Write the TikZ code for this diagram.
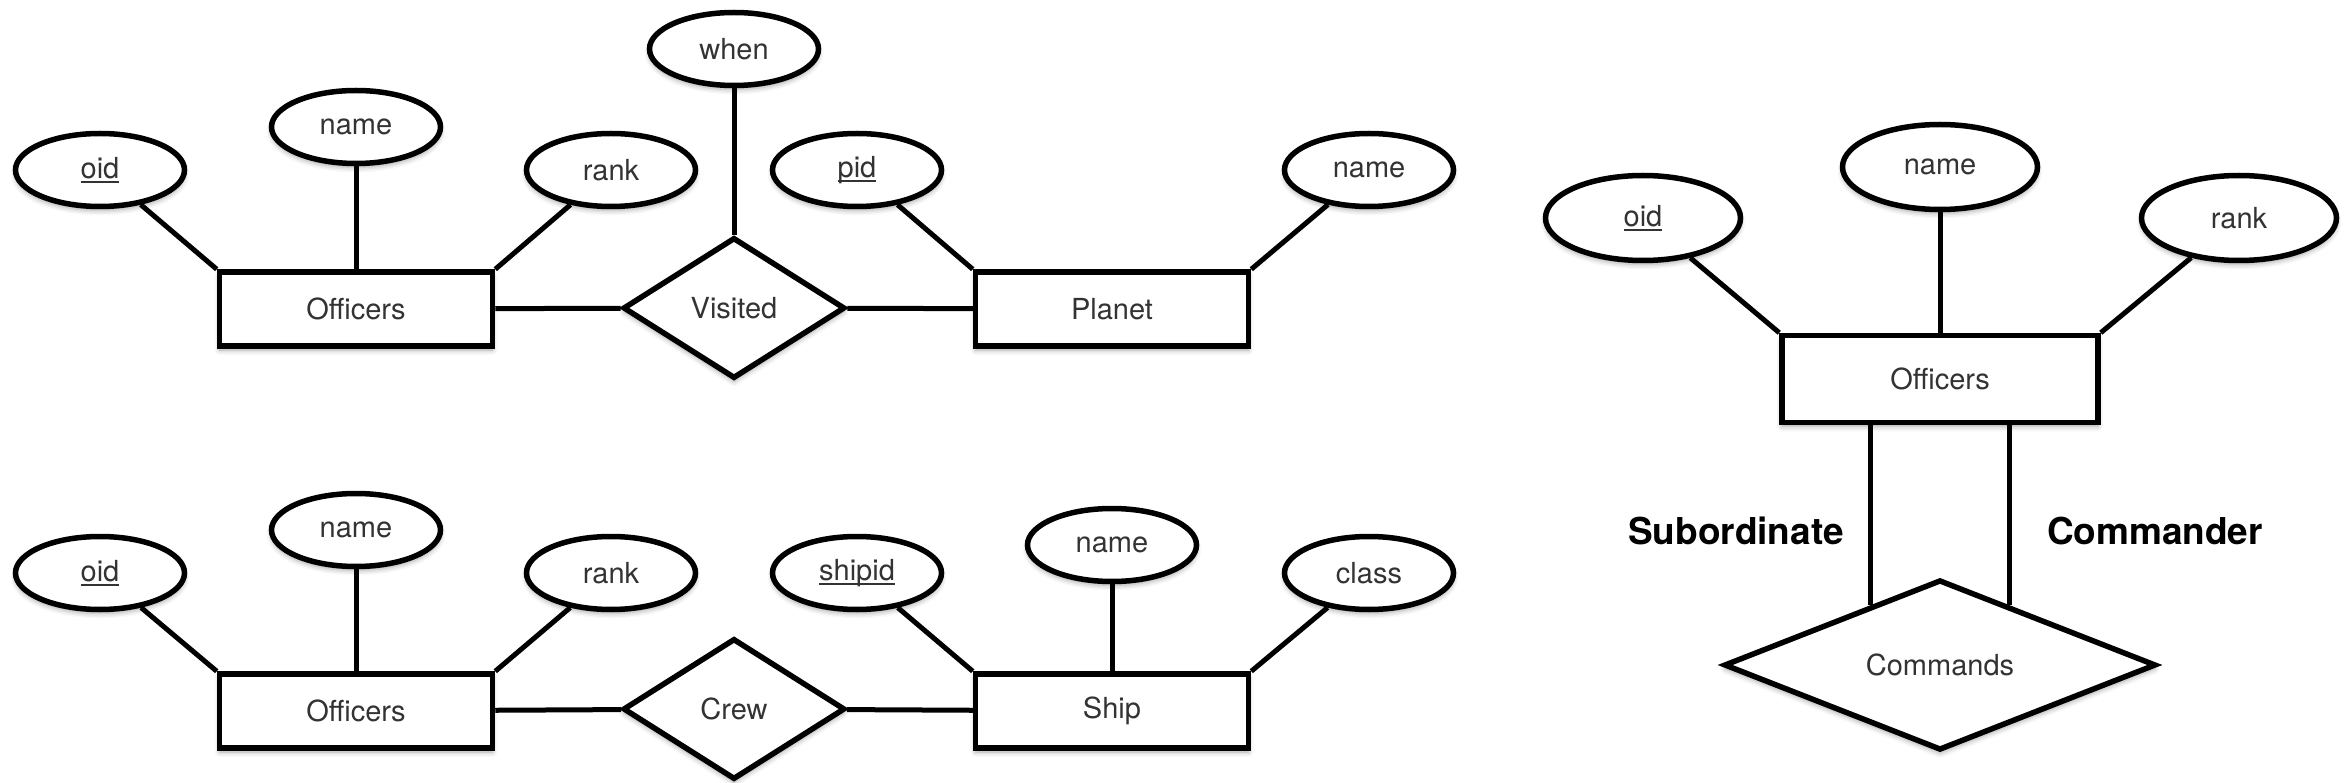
\documentclass[tikz,border=0pt]{standalone}
\usepackage{fontspec}
\setmainfont{TeX Gyre Heros}
\usetikzlibrary{shapes.geometric,shadows.blur}
\newcommand{\pk}[1]{\setbox0\hbox{#1}\rlap{\rule[-4.5pt]{\wd0}{2pt}}\box0}
\tikzset{
  ershape/.style={draw=black, fill=white, line width=5.5pt, text=black!80,
    font=\fontsize{29}{34}\selectfont, inner sep=0pt,
    blur shadow={shadow xshift=0pt, shadow yshift=-4pt, shadow blur radius=5pt, shadow opacity=35}},
  erattr/.style={ershape, ellipse, minimum width=169pt, minimum height=73pt},
  bigattr/.style={ershape, ellipse, minimum width=195pt, minimum height=85pt},
  erent/.style={ershape, rectangle, minimum width=273pt, minimum height=74pt},
  bigent/.style={ershape, rectangle, minimum width=316pt, minimum height=87pt},
  errel/.style={ershape, diamond, minimum width=222pt, minimum height=141pt},
  bigrel/.style={ershape, diamond, minimum width=432pt, minimum height=164pt},
  conn/.style={line width=5pt, draw=black},
  rolelabel/.style={font=\fontsize{37}{44}\selectfont\bfseries, text=black, inner sep=0pt}
}
\begin{document}
\begin{tikzpicture}[x=1pt,y=-1pt]
\useasboundingbox (0,0) rectangle (2345,783);

% ---- top-left: Officers - Visited - Planet ----
\node[erattr] (oidA)  at (100,170) {\pk{oid}};
\node[erattr] (nameA) at (356,127) {name};
\node[erattr] (rankA) at (611,170) {rank};
\node[erattr] (when)  at (734,49)  {when};
\node[erattr] (pid)   at (857,170) {\pk{pid}};
\node[erattr] (pname) at (1369,170) {name};
\node[erent]  (offA)  at (356,309) {Officers};
\node[errel]  (vis)   at (734,308) {Visited};
\node[erent]  (planet) at (1112,309) {Planet};

\draw[conn] (oidA) -- (offA.north west);
\draw[conn] (nameA) -- (offA);
\draw[conn] (rankA) -- (offA.north east);
\draw[conn] (when) -- (vis);
\draw[conn] (offA) -- (vis);
\draw[conn] (vis) -- (planet);
\draw[conn] (pid) -- (planet.north west);
\draw[conn] (pname) -- (planet.north east);

% ---- bottom-left: Officers - Crew - Ship ----
\node[erattr] (oidB)  at (100,573) {\pk{oid}};
\node[erattr] (nameB) at (356,530) {name};
\node[erattr] (rankB) at (611,573) {rank};
\node[erattr] (shipid) at (857,573) {\pk{shipid}};
\node[erattr] (sname) at (1112,545) {name};
\node[erattr] (sclass) at (1369,573) {class};
\node[erent]  (offB)  at (356,711) {Officers};
\node[errel]  (crew)  at (734,709) {Crew};
\node[erent]  (ship)  at (1112,711) {Ship};

\draw[conn] (oidB) -- (offB.north west);
\draw[conn] (nameB) -- (offB);
\draw[conn] (rankB) -- (offB.north east);
\draw[conn] (offB) -- (crew);
\draw[conn] (crew) -- (ship);
\draw[conn] (shipid) -- (ship.north west);
\draw[conn] (sname) -- (ship);
\draw[conn] (sclass) -- (ship.north east);

% ---- right: Officers - Commands (recursive) ----
\node[bigattr] (oidC)  at (1643,218) {\pk{oid}};
\node[bigattr] (nameC) at (1940,167) {name};
\node[bigattr] (rankC) at (2239,218) {rank};
\node[bigent]  (offC)  at (1940,379) {Officers};
\node[bigrel]  (cmd)   at (1940,665) {Commands};

\draw[conn] (oidC) -- (offC.north west);
\draw[conn] (nameC) -- (offC);
\draw[conn] (rankC) -- (offC.north east);
\draw[conn] (cmd.139) -- (cmd.139 |- offC.south);
\draw[conn] (cmd.41) -- (cmd.41 |- offC.south);

\node[rolelabel] (sub) at (1736,531) {Subordinate};
\node[rolelabel] (cmdr) at (2155,531) {Commander};
\end{tikzpicture}
\end{document}
